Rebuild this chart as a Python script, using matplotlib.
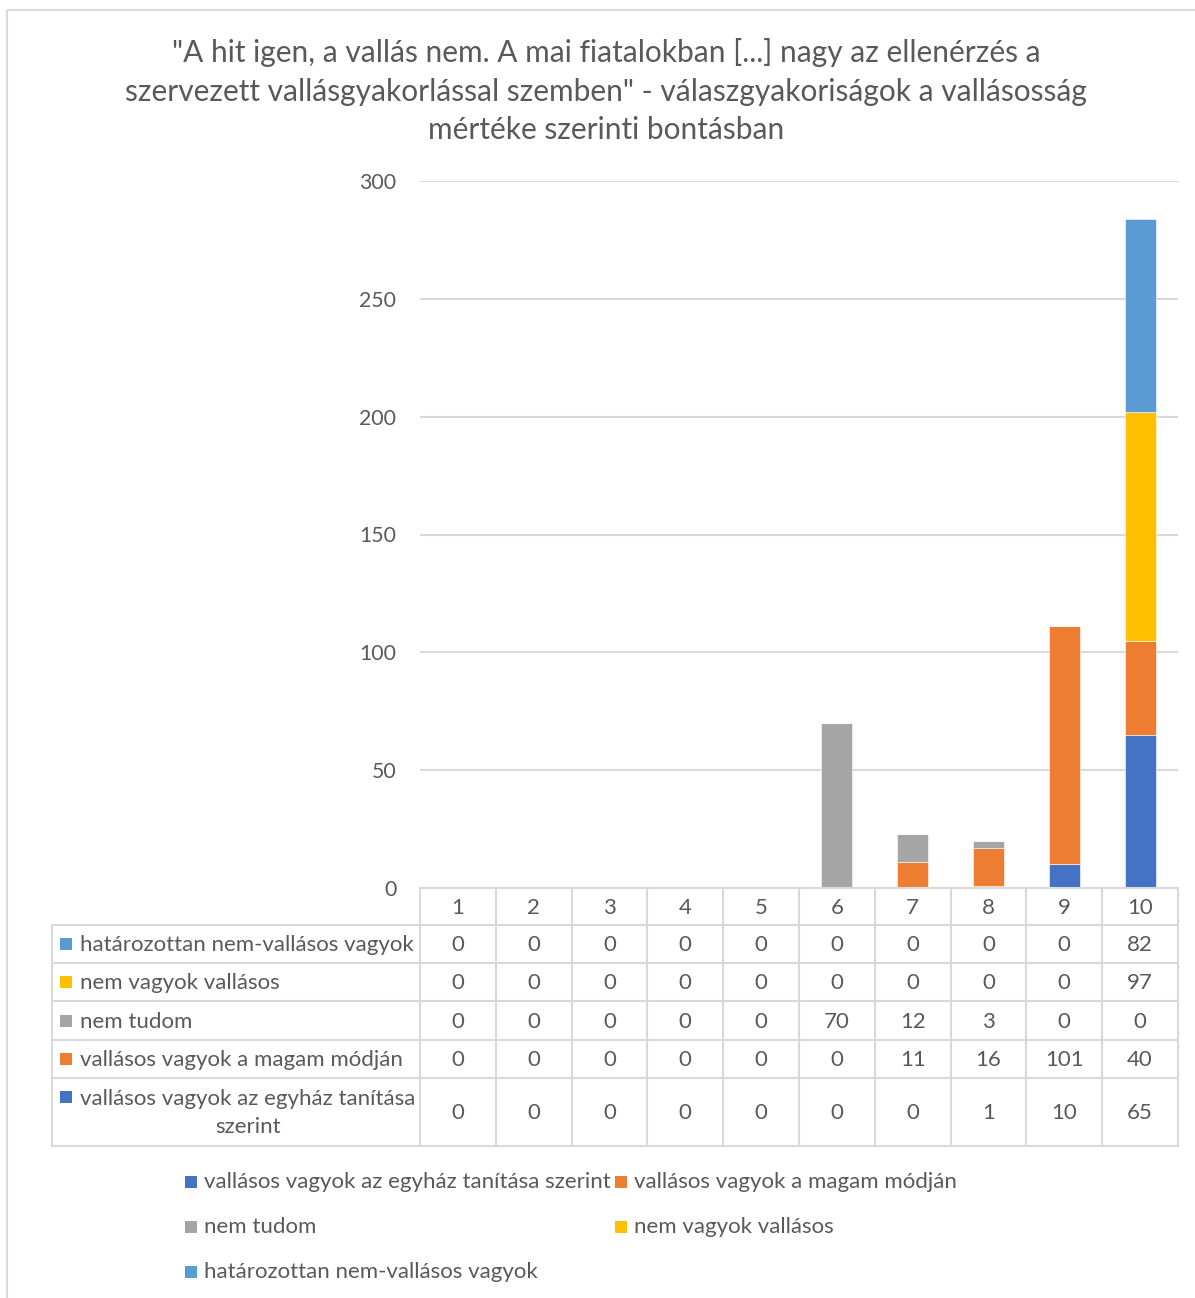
import numpy as np
import matplotlib.pyplot as plt
from matplotlib.patches import Rectangle

plt.rcParams['font.family'] = ['Lato', 'DejaVu Sans']

# --- adatok ---
categories = ['1', '2', '3', '4', '5', '6', '7', '8', '9', '10']
series_names = ['vallásos vagyok az egyház tanítása szerint',
                'vallásos vagyok a magam módján',
                'nem tudom',
                'nem vagyok vallásos',
                'határozottan nem-vallásos vagyok']
egyhaz = [0, 0, 0, 0, 0, 0, 0, 1, 10, 65]
magam = [0, 0, 0, 0, 0, 0, 11, 16, 101, 40]
nem_tudom = [0, 0, 0, 0, 0, 70, 12, 3, 0, 0]
nem_vagyok = [0, 0, 0, 0, 0, 0, 0, 0, 0, 97]
hatarozottan = [0, 0, 0, 0, 0, 0, 0, 0, 0, 82]
series_values = [egyhaz, magam, nem_tudom, nem_vagyok, hatarozottan]
colors = ['#4472C4', '#ED7D31', '#A5A5A5', '#FFC000', '#5B9BD5']
y_ticks = [0, 50, 100, 150, 200, 250, 300]

title = ('"A hit igen, a vallás nem. A mai fiatalokban [...] nagy az ellenérzés a\n'
         'szervezett vallásgyakorlással szemben" - válaszgyakoriságok a vallásosság\n'
         'mértéke szerinti bontásban')

TXT = '#595959'
GRID = '#D9D9D9'
FS = 16
W, H = 1195, 1298

fig = plt.figure(figsize=(W / 100, H / 100), dpi=100)

# plot terület (pixelben megadva)
px_left, px_right, px_top, px_bottom = 420, 1178, 181, 888
ax = fig.add_axes([px_left / W, 1 - px_bottom / H,
                   (px_right - px_left) / W, (px_bottom - px_top) / H])
x = np.arange(1, len(categories) + 1)
bottom = np.zeros(len(categories))
for vals, col in zip(series_values, colors):
    ax.bar(x, vals, width=0.41, bottom=bottom, color=col,
           edgecolor='white', linewidth=0.4, zorder=3)
    bottom += np.array(vals)
ax.set_xlim(0.5, len(categories) + 0.5)
ax.set_ylim(0, 300)
ax.set_yticks(y_ticks)
ax.set_yticklabels([str(v) for v in y_ticks])
ax.tick_params(axis='y', length=0, pad=17, labelsize=15.3, labelcolor=TXT)
ax.set_xticks([])
ax.grid(axis='y', color=GRID, linewidth=1.5, zorder=0)
for s in ax.spines.values():
    s.set_visible(False)

# overlay a címhez, táblázathoz és jelmagyarázathoz
ov = fig.add_axes([0, 0, 1, 1], facecolor='none')
ov.set_xlim(0, W)
ov.set_ylim(H, 0)
ov.axis('off')

# keret
ov.add_patch(Rectangle((7, 10), 1210, 1310, fill=False, edgecolor=GRID, linewidth=1.5))

ov.text(606, 91, title, ha='center', va='center', fontsize=21.5, color=TXT,
        linespacing=1.45)

# adattáblázat
col_w = (px_right - px_left) / len(categories)
col_edges = [px_left + i * col_w for i in range(len(categories) + 1)]
row_edges = [888, 925, 963, 1001, 1040, 1078, 1146]
lbl_left = 52
lw = 1.5
ov.plot([px_left, px_right], [row_edges[0], row_edges[0]], color=GRID, lw=lw)
for xe in col_edges:
    ov.plot([xe, xe], [row_edges[0], row_edges[-1]], color=GRID, lw=lw)
for ye in row_edges[1:]:
    ov.plot([lbl_left, px_right], [ye, ye], color=GRID, lw=lw)
ov.plot([lbl_left, lbl_left], [row_edges[1], row_edges[-1]], color=GRID, lw=lw)
for i, c in enumerate(categories):
    ov.text((col_edges[i] + col_edges[i + 1]) / 2, (row_edges[0] + row_edges[1]) / 2 + 1,
            c, ha='center', va='center', fontsize=FS, color=TXT)

table_order = [4, 3, 2, 1, 0]
table_labels = ['határozottan nem-vallásos vagyok', 'nem vagyok vallásos', 'nem tudom',
                'vallásos vagyok a magam módján',
                'vallásos vagyok az egyház tanítása\nszerint']
for r, (si, lab) in enumerate(zip(table_order, table_labels)):
    y0, y1 = row_edges[r + 1], row_edges[r + 2]
    yc = (y0 + y1) / 2 + 1
    if '\n' in lab:
        ov.add_patch(Rectangle((60, y0 + 13), 12, 12, color=colors[si], lw=0))
        ov.text(80, yc, lab, ha='left', va='center', fontsize=FS, color=TXT,
                multialignment='center', linespacing=1.55)
    else:
        ov.add_patch(Rectangle((60, yc - 7), 12, 12, color=colors[si], lw=0))
        ov.text(80, yc, lab, ha='left', va='center', fontsize=FS, color=TXT)
    for i, v in enumerate(series_values[si]):
        ov.text((col_edges[i] + col_edges[i + 1]) / 2, yc, str(v),
                ha='center', va='center', fontsize=FS, color=TXT)

# jelmagyarázat
leg_pos = [(185, 1182), (615, 1182), (185, 1227), (615, 1227), (185, 1272)]
for (lx, ly), name, col in zip(leg_pos, series_names, colors):
    ov.add_patch(Rectangle((lx, ly - 6), 12, 12, color=col, lw=0))
    ov.text(lx + 19, ly, name, ha='left', va='center', fontsize=FS, color=TXT)

fig.savefig('out.png', dpi=100)
